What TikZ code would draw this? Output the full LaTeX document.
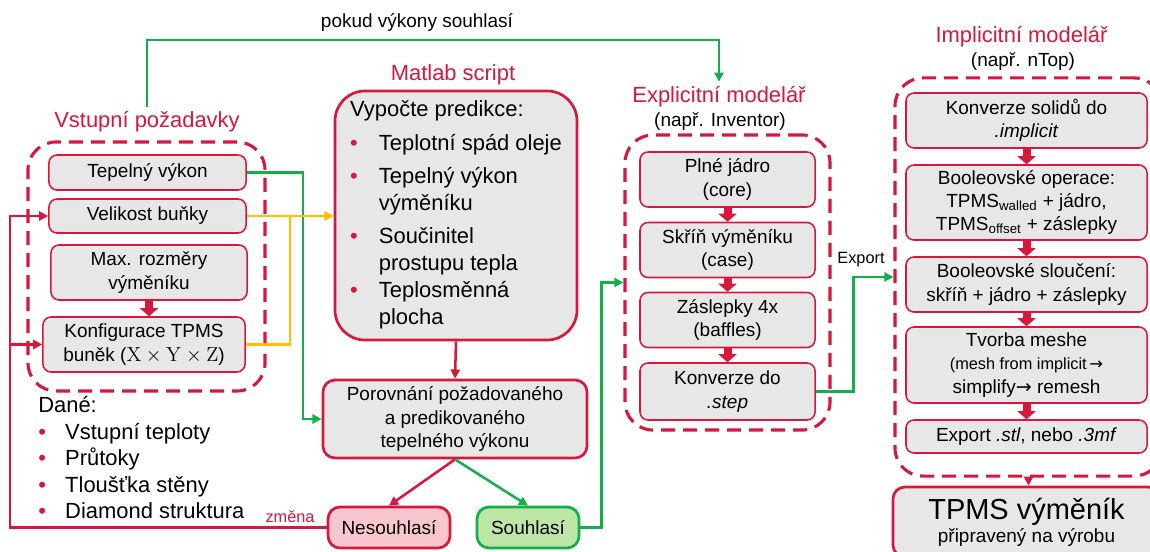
\documentclass[tikz,border=0pt]{standalone}
\usepackage[no-math]{fontspec}
\setmainfont{Liberation Sans}
\newfontfamily\djv{DejaVu Sans}
\usetikzlibrary{arrows.meta,calc}

\definecolor{dred}{HTML}{D7173B}
\definecolor{boxg}{HTML}{E7E7E7}
\definecolor{dgreen}{HTML}{12B04C}
\definecolor{dyel}{HTML}{FFC000}
\definecolor{nesfill}{HTML}{F9C6D0}
\definecolor{soufill}{HTML}{BDE5A6}
\newcommand{\bul}{\textcolor{dred}{\textbullet}}
\newcommand{\sip}{{\djv →}}

\tikzset{
  box/.style={draw=dred, fill=boxg, line width=1.1pt, rounded corners=0.2cm, align=center, inner sep=0pt, font=\fontsize{13.5}{16.5}\selectfont},
  bigbox/.style={box, line width=1.9pt, rounded corners=0.3cm},
  grp/.style={draw=dred, line width=2.2pt, dash pattern=on 0.35cm off 0.2cm, rounded corners=0.7cm},
  ttl/.style={text=dred, font=\fontsize{15.6}{18}\selectfont},
  sub/.style={font=\fontsize{13.5}{16}\selectfont},
  lbl/.style={font=\fontsize{11.6}{14}\selectfont},
  arr/.style={-{Triangle[length=6.5pt,width=6.5pt]}},
  gln/.style={draw=dgreen, line width=1.8pt},
  yln/.style={draw=dyel, line width=1.8pt},
  rln/.style={draw=dred, line width=1.8pt},
  blk/.style={draw=dred, line width=0.2cm, -{Triangle[length=0.2cm,width=0.45cm]}}
}

\begin{document}
\begin{tikzpicture}[x=0.025cm, y=-0.025cm]
  \clip (0,0) rectangle (1150,552);

  % vstupni pozadavky
  \node[ttl] (vstup) at (147,122) {Vstupní požadavky};
  \node[grp, minimum width=5.925cm, minimum height=6.225cm] (lgrp) at (146.5,266.5) {};
  \node[box, minimum width=4.925cm, minimum height=0.875cm] (tep) at (147.5,172.5) {Tepelný výkon};
  \node[box, minimum width=4.925cm, minimum height=0.85cm] (vel) at (147.5,216) {Velikost buňky};
  \node[box, minimum width=4.9cm, minimum height=1.375cm] (maxr) at (149,272.5) {Max. rozměry\\výměníku};
  \node[box, minimum width=5.05cm, minimum height=1.375cm] (konf) at (144,344.5) {Konfigurace TPMS\\buněk ($\mathrm{X}\times\mathrm{Y}\times\mathrm{Z}$)};
  \draw[blk] (maxr.south) -- (maxr.south |- konf.north);

  \node[anchor=north west, inner sep=0pt, font=\fontsize{15.6}{18.85}\selectfont] (dane) at (38,394) {%
    \begin{tabular}{@{}l@{\hspace{13.7pt}}l@{}}
      \multicolumn{2}{@{}l}{Dané:}\\
      \bul & Vstupní teploty\\
      \bul & Průtoky\\
      \bul & Tloušťka stěny\\
      \bul & Diamond struktura
    \end{tabular}};

  % matlab
  \node[ttl] (mtitle) at (453,75) {Matlab script};
  \node[bigbox, rounded corners=0.75cm, minimum width=6.05cm, minimum height=6.225cm, font=\fontsize{15.6}{19.2}\selectfont] (mat) at (456,215.5) {%
    \begin{tabular}{@{}l@{\hspace{15pt}}l@{}}
      \multicolumn{2}{@{}l}{Vypočte predikce:}\\[5pt]
      \bul & Teplotní spád oleje\\[4.3pt]
      \bul & Tepelný výkon\\
           & výměníku\\[4.3pt]
      \bul & Součinitel\\
           & prostupu tepla\\
      \bul & Teplosměnná\\
           & plocha
    \end{tabular}};
  \node[bigbox, minimum width=6.6cm, minimum height=1.95cm, font=\fontsize{13.5}{17}\selectfont] (por) at (455,419) {Porovnání požadovaného\\a predikovaného\\tepelného výkonu};
  \node[bigbox, fill=nesfill, minimum width=3.05cm, minimum height=1.025cm] (nes) at (389,527.5) {Nesouhlasí};
  \node[bigbox, draw=dgreen, fill=soufill, minimum width=2.55cm, minimum height=1.025cm] (sou) at (528,527.5) {Souhlasí};

  % explicitni modelar
  \node[ttl] (expl) at (719,97) {Explicitní modelář};
  \node[sub] (inv) at (720,122) {(např. Inventor)};
  \node[grp, minimum width=5.125cm, minimum height=7.375cm] (egrp) at (727.5,282.5) {};
  \node[box, minimum width=4.375cm, minimum height=1.375cm] (e1) at (727.5,179.5) {Plné jádro\\(core)};
  \node[box, minimum width=4.375cm, minimum height=1.375cm] (e2) at (727.5,250) {Skříň výměníku\\(case)};
  \node[box, minimum width=4.375cm, minimum height=1.375cm] (e3) at (727.5,320) {Záslepky 4x\\(baffles)};
  \node[box, minimum width=4.375cm, minimum height=1.425cm] (e4) at (727.5,391.5) {Konverze do\\\textit{.step}};
  \draw[blk] (e1) -- (e2);
  \draw[blk] (e2) -- (e3);
  \draw[blk] (e3) -- (e4);

  % implicitni modelar
  \node[ttl] (impl) at (1021.5,37) {Implicitní modelář};
  \node[sub] (ntop) at (1023,62) {(např. nTop)};
  \node[grp, minimum width=6.675cm, minimum height=9.95cm] (igrp) at (1028.5,277) {};
  \node[box, minimum width=6.025cm, minimum height=1.375cm] (i1) at (1026.5,120.5) {Konverze solidů do\\\textit{.implicit}};
  \node[box, minimum width=6.025cm, minimum height=1.875cm] (i2) at (1026.5,202.5) {Booleovské operace:\\TPMS\textsubscript{walled} + jádro,\\TPMS\textsubscript{offset} + záslepky};
  \node[box, minimum width=6.025cm, minimum height=1.375cm] (i3) at (1026.5,284.5) {Booleovské sloučení:\\skříň + jádro + záslepky};
  \node[box, minimum width=6.025cm, minimum height=1.9cm] (i4) at (1026.5,365) {Tvorba meshe\\\fontsize{11.6}{15.5}\selectfont(mesh from implicit\,\sip\\simplify\sip\ remesh};
  \node[box, minimum width=6.025cm, minimum height=0.825cm] (i5) at (1026.5,436.5) {Export \textit{.stl}, nebo \textit{.3mf}};
  \draw[blk] (i1) -- (i2);
  \draw[blk] (i2) -- (i3);
  \draw[blk] (i3) -- (i4);
  \draw[blk] (i4) -- (i5);
  \node[bigbox, minimum width=6.675cm, minimum height=1.75cm] (tpms) at (1026.5,522) {\fontsize{20.6}{24}\selectfont TPMS výměník\\\fontsize{13.5}{19}\selectfont připravený na výrobu};
  \draw[rln, arr] (igrp.south) -- (igrp.south |- tpms.north);

  % propojeni
  \coordinate (ptop) at (430,40);
  \node[sub] (pokud) at (417,22) {pokud výkony souhlasí};
  \draw[gln, arr] (vstup.north) |- (ptop) -| (expl.north);
  \draw[gln, arr] (tep.east) -- ++(56,0) |- (por.west);
  \draw[yln, arr] (vel.east) -- (vel.east -| mat.west);
  \draw[yln] (konf.east) -| ($(vel.east)+(43,0)$);
  \draw[rln, arr] (mat.south) -- (por.north);
  \draw[rln, arr] (por.south) -- (nes.north);
  \draw[gln, arr] (por.south) -- (sou.north);
  \coordinate (fb) at (10,0);
  \draw[rln, arr] (nes.west) -| (fb |- vel.west) -- (vel.west);
  \draw[rln, arr] (fb |- konf.west) -- (konf.west);
  \node[lbl, text=dred] (zmena) at (290,517) {změna};
  \draw[gln, arr] (sou.east) -| ($(egrp.west)+(-22,0)$) -- (egrp.west);
  \draw[gln, arr] (e4.east) -| ($(igrp.west)+(-40,0)$) -- (igrp.west);
  \node[lbl] (export) at (861,260) {Export};
\end{tikzpicture}
\end{document}
